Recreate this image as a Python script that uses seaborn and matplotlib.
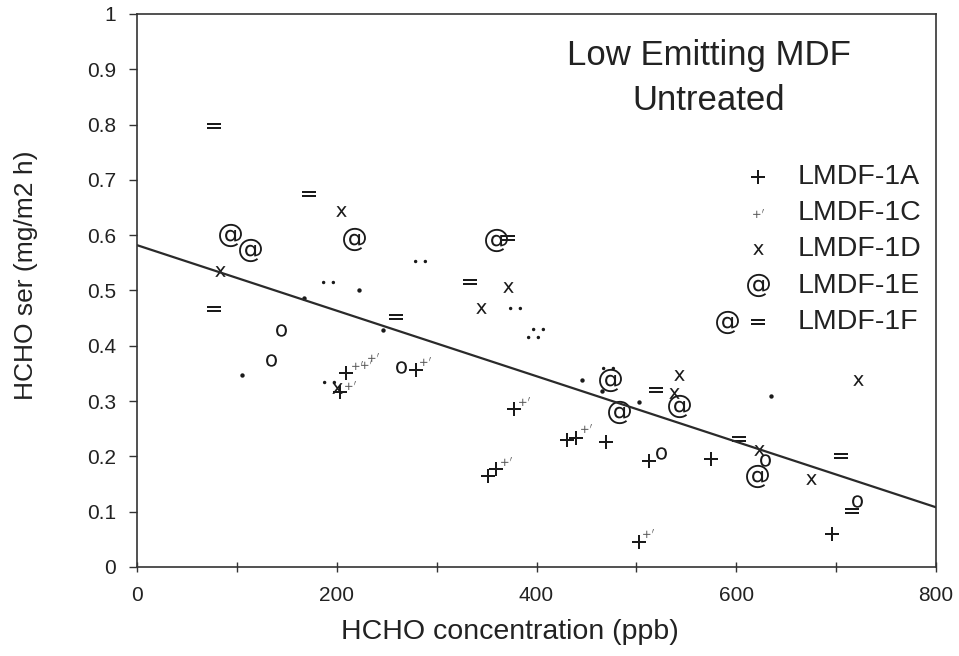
import matplotlib
matplotlib.use("Agg")
import matplotlib.pyplot as plt
import seaborn as sns
import numpy as np

sns.set_theme(style="white")
plt.rcParams['font.family'] = ['Liberation Sans', 'DejaVu Sans']

# ---- data ----
a_x = [209, 279, 377, 431, 440, 470, 513, 351, 359, 503, 575, 696, 203]
a_y = [0.351, 0.356, 0.285, 0.230, 0.234, 0.226, 0.191, 0.164, 0.178, 0.045, 0.196, 0.059, 0.316]

c_x = [213, 288, 387, 450, 369, 512, 220, 229, 236]
c_y = [0.330, 0.372, 0.300, 0.251, 0.192, 0.061, 0.365, 0.367, 0.380]

d_x = [204, 83, 371, 344, 200, 543, 538, 722, 623, 675]
d_y = [0.643, 0.535, 0.506, 0.468, 0.323, 0.348, 0.314, 0.339, 0.211, 0.159]

e_x = [93, 113, 217, 359, 474, 483, 543, 621, 591]
e_y = [0.600, 0.573, 0.594, 0.591, 0.338, 0.280, 0.292, 0.164, 0.443]

f_x = [77, 172, 77, 333, 371, 520, 603, 705, 716, 259]
f_y = [0.797, 0.675, 0.466, 0.515, 0.595, 0.320, 0.231, 0.200, 0.101, 0.452]

o_x = [144, 134, 264, 525, 629, 721]
o_y = [0.428, 0.374, 0.362, 0.206, 0.193, 0.119]

dot_x = [105, 167, 246, 446, 466, 503, 635, 222]
dot_y = [0.348, 0.486, 0.428, 0.338, 0.318, 0.298, 0.310, 0.500]

dd_x = [191, 283, 378, 402, 396, 192, 472]
dd_y = [0.515, 0.553, 0.468, 0.430, 0.416, 0.335, 0.359]

fit_x = [0, 800]
fit_y = [0.582, 0.108]

series_labels = ["LMDF-1A", "LMDF-1C", "LMDF-1D", "LMDF-1E", "LMDF-1F"]
x_ticks = [0, 200, 400, 600, 800]
y_ticks = [0, 0.1, 0.2, 0.3, 0.4, 0.5, 0.6, 0.7, 0.8, 0.9, 1]
y_ticklabels = ["0", "0.1", "0.2", "0.3", "0.4", "0.5", "0.6", "0.7", "0.8", "0.9", "1"]

# ---- figure ----
fig = plt.figure(figsize=(9.59, 6.56), dpi=100)
ax = fig.add_axes([137/959, (656-567)/656, (936-137)/959, (567-14)/656])

sns.lineplot(x=fit_x, y=fit_y, color="#2a2a2a", lw=1.6, ax=ax)

ink = "#1a1a1a"
sns.scatterplot(x=a_x, y=a_y, marker="$+$", s=90, color=ink, linewidth=0, ax=ax, label=series_labels[0])
sns.scatterplot(x=c_x, y=c_y, marker="$+'$", s=60, color="#555555", linewidth=0, ax=ax, label=series_labels[1])
sns.scatterplot(x=d_x, y=d_y, marker=r"$\mathrm{x}$", s=60, color=ink, linewidth=0, ax=ax, label=series_labels[2])
sns.scatterplot(x=e_x, y=e_y, marker="$@$", s=280, color=ink, linewidth=0, ax=ax, label=series_labels[3])
sns.scatterplot(x=f_x, y=f_y, marker="$=$", s=90, color=ink, linewidth=0, ax=ax, label=series_labels[4])
sns.scatterplot(x=o_x, y=o_y, marker=r"$\mathrm{o}$", s=80, color=ink, linewidth=0, ax=ax, label="_nolegend_")
sns.scatterplot(x=dot_x, y=dot_y, marker=".", s=40, color=ink, linewidth=0, ax=ax, label="_nolegend_")
sns.scatterplot(x=dd_x, y=dd_y, marker=r"$\bullet\bullet$", s=90, color=ink, linewidth=0, ax=ax, label="_nolegend_")

ax.set_xlim(0, 800)
ax.set_ylim(0, 1)
ax.set_xticks(x_ticks)
ax.set_xticks([100, 300, 500, 700], minor=True)
ax.set_yticks(y_ticks)
ax.set_yticklabels(y_ticklabels)
ax.tick_params(axis="y", which="major", direction="out", length=6, width=1, color="#333333",
               labelsize=15, pad=9, left=True, labelcolor="#222222")
ax.tick_params(axis="x", which="both", direction="inout", length=7, width=1, color="#333333",
               labelsize=15, pad=10, bottom=True, labelcolor="#222222")
for sp in ax.spines.values():
    sp.set_visible(True)
    sp.set_color("#333333")
    sp.set_linewidth(1.2)

ax.set_xlabel("HCHO concentration (ppb)", fontsize=20.5, color="#222222")
ax.xaxis.set_label_coords((510-137)/799, -(632-567)/553)
ax.xaxis.label.set_va("center")
ax.set_ylabel("HCHO ser (mg/m2 h)", fontsize=19, color="#222222")
ax.yaxis.set_label_coords((26-137)/799, (567-275)/553)
ax.yaxis.label.set_va("center")

ax.text((709-137)/799, (567-56)/553, "Low Emitting MDF", transform=ax.transAxes,
        ha="center", va="center", fontsize=25, color="#222222")
ax.text((709-137)/799, (567-101)/553, "Untreated", transform=ax.transAxes,
        ha="center", va="center", fontsize=25, color="#222222")

leg = ax.legend(loc="upper left", bbox_to_anchor=((744-137)/799, (567-164)/553), frameon=False,
                fontsize=20.5, labelspacing=0.36, handletextpad=0.9, markerscale=1.0,
                handlelength=1.0, borderaxespad=0, borderpad=0)
for t in leg.get_texts():
    t.set_color("#222222")

fig.savefig("out.png", dpi=100, facecolor="white")
